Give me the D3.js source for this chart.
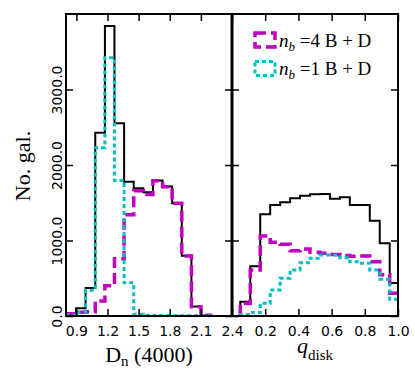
<!DOCTYPE html>
<html>
<head>
<meta charset="utf-8">
<script src="https://cdn.jsdelivr.net/npm/d3@7"></script>
<style>
  body { margin: 0; background: #fff; }
</style>
</head>
<body>
<div id="chart"></div>
<script>
// bin edges and counts
var dnEdges = [0.804, 0.897, 0.989, 1.082, 1.175, 1.267, 1.360, 1.453, 1.545, 1.638, 1.731, 1.823, 1.916, 2.009, 2.101, 2.194];
var dnTotal = [20, 102, 372, 2428, 3841, 2552, 1779, 1691, 1640, 1795, 1715, 1493, 797, 125, 5];
var dnFour  = [30, 50, 57, 200, 400, 757, 1340, 1660, 1610, 1790, 1712, 1493, 795, 123, 10];
var dnOne   = [10, 50, 340, 2230, 3420, 1795, 440, 22, 10, 5, 5, 3, 2, 2, 2];

var qEdges = [0.05, 0.11, 0.17, 0.23, 0.29, 0.35, 0.41, 0.47, 0.53, 0.59, 0.65, 0.71, 0.77, 0.83, 0.89, 0.95, 1.01];
var qTotal = [190, 660, 1347, 1470, 1506, 1559, 1594, 1612, 1615, 1552, 1572, 1470, 1470, 1260, 963, 437];
var qFour  = [165, 609, 1060, 976, 950, 865, 887, 843, 830, 815, 800, 790, 795, 720, 545, 300];
var qOne   = [20, 45, 168, 344, 499, 609, 706, 764, 808, 808, 772, 720, 698, 609, 486, 221];

var dnTicks = [0.9, 1.2, 1.5, 1.8, 2.1, 2.4];
var qTicks = [0.2, 0.4, 0.6, 0.8, 1.0];
var countTicks = [0, 1000, 2000, 3000];

var width = 415, height = 387;
var plotTop = 14, plotBottom = 316, x0 = 66, mid = 232, x1 = 398;

var svg = d3.select("#chart").append("svg")
  .attr("width", width).attr("height", height);

var y = d3.scaleLinear().domain([0, 4000]).range([plotBottom, plotTop]);
var xL = d3.scaleLinear().domain([0.8, 2.4]).range([x0, mid]);
var xR = d3.scaleLinear().domain([0, 1]).range([mid, x1]);

// clip each panel
var defs = svg.append("defs");
defs.append("clipPath").attr("id", "clipL").append("rect")
  .attr("x", x0).attr("y", plotTop).attr("width", mid - x0).attr("height", plotBottom - plotTop);
defs.append("clipPath").attr("id", "clipR").append("rect")
  .attr("x", mid).attr("y", plotTop).attr("width", x1 - mid).attr("height", plotBottom - plotTop);

function stepPath(edges, counts, x) {
  var pts = [[edges[0], 0]];
  counts.forEach(function (c, i) {
    pts.push([edges[i], c]);
    pts.push([edges[i + 1], c]);
  });
  pts.push([edges[edges.length - 1], 0]);
  return d3.line().x(function (d) { return x(d[0]); }).y(function (d) { return y(d[1]); })(pts);
}

var styles = {
  total: { color: "#000", w: 2, dash: null },
  four: { color: "#bf00bf", w: 3.5, dash: "11,5" },
  one: { color: "#00bfbf", w: 3, dash: "4,3" }
};

function drawHist(clip, edges, counts, x, st) {
  svg.append("path")
    .attr("clip-path", "url(#" + clip + ")")
    .attr("d", stepPath(edges, counts, x))
    .style("fill", "none")
    .style("stroke", st.color)
    .style("stroke-width", st.w)
    .style("stroke-dasharray", st.dash);
}

drawHist("clipL", dnEdges, dnTotal, xL, styles.total);
drawHist("clipL", dnEdges, dnFour, xL, styles.four);
drawHist("clipL", dnEdges, dnOne, xL, styles.one);
drawHist("clipR", qEdges, qTotal, xR, styles.total);
drawHist("clipR", qEdges, qFour, xR, styles.four);
drawHist("clipR", qEdges, qOne, xR, styles.one);

// axes: ticks inward on every side
function styleAxis(g) {
  g.select(".domain").remove();
  g.selectAll(".tick line").style("stroke", "#000").style("stroke-width", 1.5);
  g.attr("font-family", "DejaVu Sans").attr("font-size", 14);
  g.selectAll(".tick text").style("fill", "#000");
}

function panelAxes(x, ticks, xa, xb, withLabels) {
  svg.append("g").attr("transform", "translate(0," + plotBottom + ")")
    .call(d3.axisBottom(x).tickValues(ticks).tickSize(-7).tickPadding(10).tickFormat(d3.format(".1f")))
    .call(styleAxis);
  svg.append("g").attr("transform", "translate(0," + plotTop + ")")
    .call(d3.axisTop(x).tickValues(ticks).tickSize(-7).tickFormat(""))
    .call(styleAxis);
  var gl = svg.append("g").attr("transform", "translate(" + xa + ",0)")
    .call(d3.axisLeft(y).tickValues(countTicks).tickSize(-7).tickFormat(withLabels ? d3.format(".1f") : ""))
    .call(styleAxis);
  if (withLabels) {
    gl.selectAll(".tick text")
      .attr("x", 0).attr("dy", null)
      .attr("text-anchor", "middle")
      .attr("transform", "translate(-4,0) rotate(-90)");
  }
  svg.append("g").attr("transform", "translate(" + xb + ",0)")
    .call(d3.axisRight(y).tickValues(countTicks).tickSize(-7).tickFormat(""))
    .call(styleAxis);
  svg.append("rect")
    .attr("x", xa).attr("y", plotTop).attr("width", xb - xa).attr("height", plotBottom - plotTop)
    .style("fill", "none").style("stroke", "#000").style("stroke-width", 2);
}

panelAxes(xL, dnTicks, x0, mid, true);
panelAxes(xR, qTicks, mid, x1, false);
svg.append("line").attr("x1", mid).attr("x2", mid).attr("y1", plotTop - 1).attr("y2", plotBottom + 1)
  .style("stroke", "#000").style("stroke-width", 3);

// axis titles
svg.append("text")
  .attr("transform", "translate(30,166) rotate(-90)")
  .attr("text-anchor", "middle")
  .attr("font-family", "Liberation Serif").attr("font-size", 22)
  .text("No. gal.");

var xlab = svg.append("text")
  .attr("x", 149).attr("y", 361.5)
  .attr("text-anchor", "middle")
  .attr("font-family", "Liberation Serif").attr("font-size", 22);
xlab.append("tspan").text("D");
xlab.append("tspan").attr("dy", 4).attr("font-size", 15).text("n");
xlab.append("tspan").attr("dy", -4).text(" (4000)");

var qlab = svg.append("text")
  .attr("x", 315).attr("y", 352.5)
  .attr("text-anchor", "middle")
  .attr("font-family", "Liberation Serif").attr("font-size", 22);
qlab.append("tspan").attr("font-style", "italic").text("q");
qlab.append("tspan").attr("dy", 7.5).attr("font-size", 15).text("disk");

// legend
var legendItems = [
  { st: styles.four, num: "4", y: 33 },
  { st: styles.one, num: "1", y: 61.5 }
];
legendItems.forEach(function (d) {
  svg.append("rect")
    .attr("x", 255).attr("y", d.y).attr("width", 20).attr("height", 14)
    .style("fill", "none")
    .style("stroke", d.st.color)
    .style("stroke-width", d.st.w)
    .style("stroke-dasharray", d.st.dash);
  var t = svg.append("text")
    .attr("x", 279).attr("y", d.y + 13.5)
    .attr("font-family", "Liberation Serif").attr("font-size", 19);
  t.append("tspan").attr("font-style", "italic").text("n");
  t.append("tspan").attr("font-style", "italic").attr("font-size", 13).attr("dy", 4).text("b");
  t.append("tspan").attr("dy", -4).text(" =" + d.num + " B + D");
});
</script>
</body>
</html>
